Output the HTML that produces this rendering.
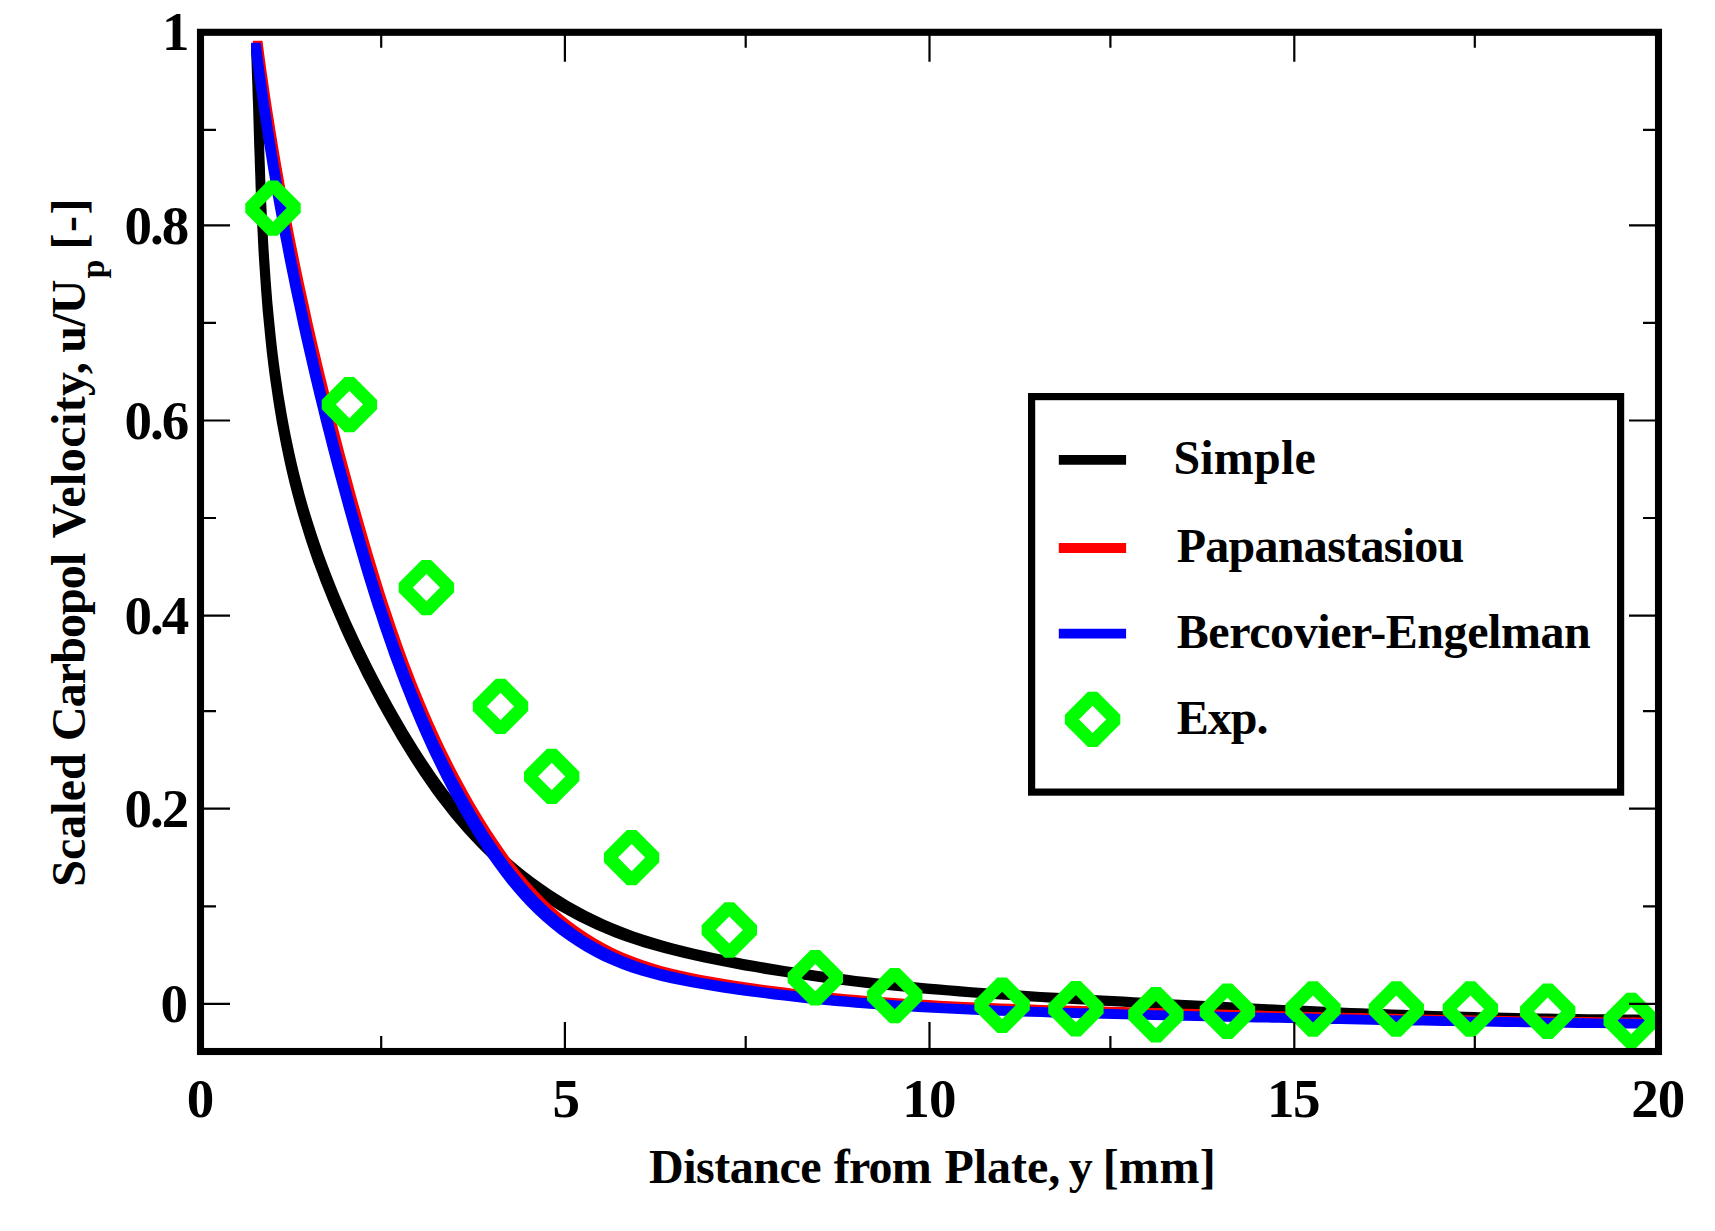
<!DOCTYPE html>
<html lang="en"><head><meta charset="utf-8"><title>Scaled Carbopol Velocity vs Distance from Plate</title>
<style>html,body{margin:0;padding:0;background:#fff}body{width:1715px;height:1231px;overflow:hidden}svg{display:block}text{font-family:"Liberation Serif",serif;font-weight:bold;fill:#000}</style></head><body>
<svg width="1715" height="1231" viewBox="0 0 1715 1231">
<rect width="1715" height="1231" fill="#fff"/>
<defs><clipPath id="plot"><rect x="200.5" y="32.3" width="1458" height="1019.2"/></clipPath></defs>
<g clip-path="url(#plot)" stroke="none">
<path d="M251.2 44.0 L260.8 44.0 L261.2 54.1 L261.5 64.3 L261.9 74.5 L262.2 84.7 L262.6 95.0 L262.9 105.2 L263.2 115.5 L263.5 125.8 L263.8 136.1 L264.2 146.4 L264.5 156.7 L264.9 167.0 L265.2 177.4 L265.6 187.7 L266.0 198.1 L266.5 208.4 L267.0 218.8 L267.5 229.1 L268.0 239.5 L268.6 249.8 L269.3 260.2 L270.0 270.5 L270.7 280.9 L271.5 291.2 L272.3 301.6 L273.3 311.9 L274.3 322.2 L275.3 332.5 L276.4 342.8 L277.6 353.0 L278.9 363.3 L280.3 373.5 L281.8 383.7 L283.3 393.9 L285.0 404.1 L286.7 414.3 L288.6 424.4 L290.5 434.5 L292.6 444.6 L294.7 454.6 L297.0 464.6 L299.4 474.6 L302.0 484.6 L304.6 494.5 L307.4 504.4 L310.3 514.2 L313.4 524.1 L316.5 533.8 L319.8 543.6 L323.2 553.3 L326.8 562.9 L330.4 572.6 L334.2 582.2 L338.0 591.7 L342.0 601.2 L346.1 610.7 L350.2 620.2 L354.5 629.6 L358.9 638.9 L363.3 648.3 L367.9 657.5 L372.5 666.8 L377.3 676.0 L382.1 685.2 L387.0 694.3 L392.0 703.4 L397.1 712.4 L402.3 721.4 L407.5 730.4 L412.9 739.2 L418.3 748.0 L423.9 756.7 L429.6 765.3 L435.5 773.9 L441.4 782.3 L447.5 790.6 L453.8 798.7 L460.2 806.8 L466.8 814.7 L473.5 822.4 L480.4 830.0 L487.5 837.4 L494.8 844.7 L502.2 851.7 L509.9 858.6 L517.7 865.3 L525.8 871.8 L534.0 878.0 L542.4 884.1 L551.0 889.9 L559.7 895.5 L568.5 900.9 L577.5 906.0 L586.7 910.9 L595.9 915.5 L605.3 919.9 L614.8 924.0 L624.3 927.8 L634.0 931.4 L643.8 934.7 L653.6 937.8 L663.5 940.7 L673.4 943.5 L683.4 946.0 L693.5 948.4 L703.5 950.7 L713.6 952.9 L723.7 955.0 L733.9 957.0 L744.0 958.9 L754.1 960.8 L764.3 962.5 L774.5 964.3 L784.6 965.9 L794.8 967.5 L805.0 969.1 L815.2 970.5 L825.4 972.0 L835.6 973.3 L845.8 974.6 L856.0 975.9 L866.2 977.1 L876.4 978.3 L886.6 979.4 L896.9 980.4 L907.1 981.5 L917.4 982.5 L927.6 983.4 L937.9 984.3 L948.2 985.2 L958.4 986.0 L968.7 986.9 L979.0 987.7 L989.3 988.4 L999.5 989.1 L1009.8 989.9 L1020.1 990.5 L1030.4 991.2 L1040.7 991.9 L1051.0 992.5 L1061.3 993.1 L1071.6 993.7 L1082.0 994.3 L1092.3 994.9 L1102.6 995.5 L1112.9 996.1 L1123.2 996.6 L1133.6 997.2 L1143.9 997.8 L1154.2 998.3 L1164.6 998.9 L1174.9 999.5 L1185.2 1000.0 L1195.6 1000.5 L1205.9 1001.1 L1216.3 1001.6 L1226.6 1002.1 L1236.9 1002.7 L1247.3 1003.2 L1257.6 1003.7 L1268.0 1004.2 L1278.3 1004.7 L1288.6 1005.2 L1299.0 1005.6 L1309.3 1006.1 L1319.7 1006.5 L1330.0 1007.0 L1340.3 1007.4 L1350.7 1007.9 L1361.0 1008.3 L1371.3 1008.7 L1381.7 1009.1 L1392.0 1009.5 L1402.3 1009.8 L1412.7 1010.2 L1423.0 1010.5 L1433.3 1010.9 L1443.6 1011.2 L1454.0 1011.5 L1464.3 1011.8 L1474.6 1012.1 L1484.9 1012.4 L1495.2 1012.6 L1505.5 1012.8 L1515.8 1013.1 L1526.1 1013.3 L1536.4 1013.5 L1546.7 1013.6 L1557.0 1013.8 L1567.2 1013.9 L1577.5 1014.1 L1587.8 1014.2 L1598.0 1014.3 L1608.3 1014.3 L1618.6 1014.4 L1628.8 1014.4 L1639.1 1014.5 L1649.3 1014.5 L1659.5 1014.4 L1659.5 1024.0 L1649.9 1024.0 L1639.7 1024.1 L1629.5 1024.1 L1619.2 1024.0 L1609.0 1024.0 L1598.7 1023.9 L1588.4 1023.9 L1578.2 1023.8 L1567.9 1023.7 L1557.6 1023.5 L1547.4 1023.4 L1537.1 1023.2 L1526.8 1023.1 L1516.5 1022.9 L1506.2 1022.7 L1495.9 1022.4 L1485.6 1022.2 L1475.3 1022.0 L1465.0 1021.7 L1454.7 1021.4 L1444.4 1021.1 L1434.0 1020.8 L1423.7 1020.5 L1413.4 1020.1 L1403.1 1019.8 L1392.7 1019.4 L1382.4 1019.1 L1372.1 1018.7 L1361.7 1018.3 L1351.4 1017.9 L1341.1 1017.5 L1330.7 1017.0 L1320.4 1016.6 L1310.1 1016.1 L1299.7 1015.7 L1289.4 1015.2 L1279.0 1014.8 L1268.7 1014.3 L1258.4 1013.8 L1248.0 1013.3 L1237.7 1012.8 L1227.3 1012.3 L1217.0 1011.7 L1206.7 1011.2 L1196.3 1010.7 L1186.0 1010.1 L1175.6 1009.6 L1165.3 1009.1 L1155.0 1008.5 L1144.6 1007.9 L1134.3 1007.4 L1124.0 1006.8 L1113.6 1006.2 L1103.3 1005.7 L1093.0 1005.1 L1082.7 1004.5 L1072.4 1003.9 L1062.0 1003.3 L1051.7 1002.7 L1041.4 1002.1 L1031.1 1001.5 L1020.8 1000.8 L1010.5 1000.1 L1000.2 999.5 L989.9 998.7 L979.7 998.0 L969.4 997.3 L959.1 996.5 L948.8 995.6 L938.6 994.8 L928.3 993.9 L918.0 993.0 L907.8 992.1 L897.5 991.1 L887.3 990.0 L877.0 989.0 L866.8 987.9 L856.6 986.7 L846.4 985.5 L836.2 984.2 L826.0 982.9 L815.8 981.6 L805.6 980.1 L795.4 978.7 L785.2 977.1 L775.0 975.5 L764.9 973.9 L754.7 972.1 L744.5 970.4 L734.4 968.5 L724.3 966.6 L714.1 964.6 L704.0 962.5 L693.9 960.3 L683.9 958.0 L673.8 955.6 L663.8 953.1 L653.9 950.3 L644.0 947.4 L634.2 944.3 L624.4 941.0 L614.7 937.4 L605.2 933.6 L595.7 929.5 L586.3 925.1 L577.1 920.5 L567.9 915.6 L558.9 910.5 L550.1 905.1 L541.4 899.5 L532.8 893.7 L524.4 887.6 L516.2 881.4 L508.1 874.9 L500.3 868.2 L492.6 861.3 L485.2 854.3 L477.9 847.0 L470.8 839.6 L463.9 832.0 L457.2 824.3 L450.6 816.4 L444.2 808.3 L437.9 800.2 L431.8 791.9 L425.9 783.5 L420.0 774.9 L414.3 766.3 L408.7 757.6 L403.3 748.8 L397.9 740.0 L392.7 731.0 L387.5 722.0 L382.4 713.0 L377.4 703.9 L372.5 694.8 L367.7 685.6 L362.9 676.4 L358.3 667.1 L353.7 657.9 L349.3 648.5 L344.9 639.2 L340.6 629.8 L336.5 620.3 L332.4 610.8 L328.4 601.3 L324.6 591.8 L320.8 582.2 L317.2 572.5 L313.6 562.9 L310.2 553.2 L306.9 543.4 L303.8 533.7 L300.7 523.8 L297.8 514.0 L295.0 504.1 L292.4 494.2 L289.8 484.2 L287.4 474.2 L285.1 464.2 L283.0 454.2 L280.9 444.1 L279.0 434.0 L277.1 423.9 L275.4 413.7 L273.7 403.5 L272.2 393.3 L270.7 383.1 L269.3 372.9 L268.0 362.6 L266.8 352.4 L265.7 342.1 L264.7 331.8 L263.7 321.5 L262.7 311.2 L261.9 300.8 L261.1 290.5 L260.4 280.1 L259.7 269.8 L259.0 259.4 L258.4 249.1 L257.9 238.7 L257.4 228.4 L256.9 218.0 L256.4 207.7 L256.0 197.3 L255.6 187.0 L255.3 176.6 L254.9 166.3 L254.6 156.0 L254.2 145.7 L253.9 135.4 L253.6 125.1 L253.3 114.8 L253.0 104.6 L252.6 94.3 L252.3 84.1 L251.9 73.9 L251.6 63.7 L251.2 53.6Z" fill="#000"/>
<path d="M252.9 40.8 L262.5 40.8 L263.8 51.1 L265.2 61.5 L266.6 71.8 L268.1 82.1 L269.6 92.4 L271.1 102.6 L272.7 112.9 L274.3 123.1 L275.9 133.3 L277.6 143.5 L279.3 153.7 L281.0 163.9 L282.8 174.0 L284.6 184.2 L286.4 194.3 L288.3 204.4 L290.2 214.6 L292.1 224.7 L294.0 234.7 L296.0 244.8 L298.1 254.9 L300.1 265.0 L302.2 275.0 L304.3 285.1 L306.5 295.1 L308.7 305.1 L310.9 315.2 L313.1 325.2 L315.4 335.2 L317.7 345.2 L320.1 355.2 L322.4 365.2 L324.8 375.2 L327.3 385.2 L329.7 395.2 L332.2 405.1 L334.7 415.1 L337.2 425.1 L339.8 435.1 L342.4 445.0 L345.0 455.0 L347.7 465.0 L350.4 475.0 L353.1 484.9 L355.8 494.9 L358.6 504.9 L361.4 514.8 L364.2 524.8 L367.1 534.8 L370.0 544.7 L372.9 554.7 L375.9 564.6 L378.9 574.6 L382.0 584.5 L385.1 594.4 L388.3 604.2 L391.6 614.1 L394.9 623.9 L398.3 633.7 L401.7 643.5 L405.2 653.2 L408.8 662.9 L412.5 672.6 L416.2 682.2 L420.1 691.8 L424.0 701.3 L428.0 710.8 L432.1 720.2 L436.3 729.6 L440.6 739.0 L445.0 748.3 L449.6 757.5 L454.2 766.7 L458.9 775.8 L463.8 784.8 L468.7 793.8 L473.8 802.7 L479.0 811.6 L484.3 820.3 L489.8 829.0 L495.4 837.6 L501.2 846.1 L507.1 854.5 L513.2 862.8 L519.5 870.9 L526.0 878.8 L532.8 886.5 L539.8 894.0 L547.0 901.3 L554.6 908.3 L562.4 915.0 L570.4 921.4 L578.7 927.6 L587.2 933.3 L596.0 938.8 L604.9 943.8 L614.1 948.5 L623.4 952.8 L632.9 956.6 L642.5 960.1 L652.3 963.3 L662.2 966.2 L672.1 968.8 L682.2 971.1 L692.4 973.3 L702.6 975.3 L712.8 977.1 L723.1 978.8 L733.3 980.5 L743.6 982.1 L753.9 983.5 L764.1 985.0 L774.4 986.3 L784.7 987.6 L794.9 988.9 L805.2 990.1 L815.5 991.2 L825.8 992.2 L836.0 993.2 L846.3 994.2 L856.6 995.1 L866.9 995.9 L877.2 996.7 L887.4 997.5 L897.7 998.2 L908.0 998.9 L918.3 999.5 L928.6 1000.1 L938.9 1000.7 L949.1 1001.2 L959.4 1001.7 L969.7 1002.2 L980.0 1002.6 L990.3 1003.1 L1000.6 1003.5 L1010.9 1003.8 L1021.2 1004.2 L1031.5 1004.5 L1041.7 1004.9 L1052.0 1005.2 L1062.3 1005.5 L1072.6 1005.8 L1082.9 1006.0 L1093.2 1006.3 L1103.5 1006.6 L1113.8 1006.9 L1124.1 1007.1 L1134.4 1007.4 L1144.7 1007.7 L1155.0 1008.0 L1165.3 1008.2 L1175.6 1008.5 L1185.9 1008.8 L1196.2 1009.0 L1206.5 1009.3 L1216.8 1009.6 L1227.1 1009.8 L1237.4 1010.1 L1247.8 1010.4 L1258.1 1010.6 L1268.4 1010.9 L1278.7 1011.2 L1289.0 1011.4 L1299.3 1011.7 L1309.6 1011.9 L1319.9 1012.2 L1330.2 1012.4 L1340.5 1012.7 L1350.8 1012.9 L1361.2 1013.1 L1371.5 1013.4 L1381.8 1013.6 L1392.1 1013.8 L1402.4 1014.0 L1412.7 1014.3 L1423.0 1014.5 L1433.3 1014.7 L1443.7 1014.9 L1454.0 1015.1 L1464.3 1015.3 L1474.6 1015.5 L1484.9 1015.6 L1495.2 1015.8 L1505.6 1016.0 L1515.9 1016.2 L1526.2 1016.3 L1536.5 1016.5 L1546.8 1016.6 L1557.1 1016.7 L1567.5 1016.9 L1577.8 1017.0 L1588.1 1017.1 L1598.4 1017.2 L1608.7 1017.3 L1619.1 1017.4 L1629.4 1017.5 L1639.7 1017.6 L1650.0 1017.7 L1660.3 1017.7 L1660.3 1027.3 L1650.7 1027.3 L1640.4 1027.3 L1630.1 1027.2 L1619.8 1027.1 L1609.5 1027.0 L1599.1 1026.9 L1588.8 1026.8 L1578.5 1026.7 L1568.2 1026.6 L1557.9 1026.5 L1547.5 1026.3 L1537.2 1026.2 L1526.9 1026.1 L1516.6 1025.9 L1506.3 1025.8 L1496.0 1025.6 L1485.6 1025.4 L1475.3 1025.2 L1465.0 1025.1 L1454.7 1024.9 L1444.4 1024.7 L1434.1 1024.5 L1423.7 1024.3 L1413.4 1024.1 L1403.1 1023.9 L1392.8 1023.6 L1382.5 1023.4 L1372.2 1023.2 L1361.9 1023.0 L1351.6 1022.7 L1341.2 1022.5 L1330.9 1022.3 L1320.6 1022.0 L1310.3 1021.8 L1300.0 1021.5 L1289.7 1021.3 L1279.4 1021.0 L1269.1 1020.8 L1258.8 1020.5 L1248.5 1020.2 L1238.2 1020.0 L1227.8 1019.7 L1217.5 1019.4 L1207.2 1019.2 L1196.9 1018.9 L1186.6 1018.6 L1176.3 1018.4 L1166.0 1018.1 L1155.7 1017.8 L1145.4 1017.6 L1135.1 1017.3 L1124.8 1017.0 L1114.5 1016.7 L1104.2 1016.5 L1093.9 1016.2 L1083.6 1015.9 L1073.3 1015.6 L1063.0 1015.4 L1052.7 1015.1 L1042.4 1014.8 L1032.1 1014.5 L1021.9 1014.1 L1011.6 1013.8 L1001.3 1013.4 L991.0 1013.1 L980.7 1012.7 L970.4 1012.2 L960.1 1011.8 L949.8 1011.3 L939.5 1010.8 L929.3 1010.3 L919.0 1009.7 L908.7 1009.1 L898.4 1008.5 L888.1 1007.8 L877.8 1007.1 L867.6 1006.3 L857.3 1005.5 L847.0 1004.7 L836.7 1003.8 L826.4 1002.8 L816.2 1001.8 L805.9 1000.8 L795.6 999.7 L785.3 998.5 L775.1 997.2 L764.8 995.9 L754.5 994.6 L744.3 993.1 L734.0 991.7 L723.7 990.1 L713.5 988.4 L703.2 986.7 L693.0 984.9 L682.8 982.9 L672.6 980.7 L662.5 978.4 L652.6 975.8 L642.7 972.9 L632.9 969.7 L623.3 966.2 L613.8 962.4 L604.5 958.1 L595.3 953.4 L586.4 948.4 L577.6 942.9 L569.1 937.2 L560.8 931.0 L552.8 924.6 L545.0 917.9 L537.4 910.9 L530.2 903.6 L523.2 896.1 L516.4 888.4 L509.9 880.5 L503.6 872.4 L497.5 864.1 L491.6 855.7 L485.8 847.2 L480.2 838.6 L474.7 829.9 L469.4 821.2 L464.2 812.3 L459.1 803.4 L454.2 794.4 L449.3 785.4 L444.6 776.3 L440.0 767.1 L435.4 757.9 L431.0 748.6 L426.7 739.2 L422.5 729.8 L418.4 720.4 L414.4 710.9 L410.5 701.4 L406.6 691.8 L402.9 682.2 L399.2 672.5 L395.6 662.8 L392.1 653.1 L388.7 643.3 L385.3 633.5 L382.0 623.7 L378.7 613.8 L375.5 604.0 L372.4 594.1 L369.3 584.2 L366.3 574.2 L363.3 564.3 L360.4 554.3 L357.5 544.4 L354.6 534.4 L351.8 524.4 L349.0 514.5 L346.2 504.5 L343.5 494.5 L340.8 484.6 L338.1 474.6 L335.4 464.6 L332.8 454.6 L330.2 444.7 L327.6 434.7 L325.1 424.7 L322.6 414.7 L320.1 404.8 L317.7 394.8 L315.2 384.8 L312.8 374.8 L310.5 364.8 L308.1 354.8 L305.8 344.8 L303.5 334.8 L301.3 324.8 L299.1 314.7 L296.9 304.7 L294.7 294.7 L292.6 284.6 L290.5 274.6 L288.5 264.5 L286.4 254.4 L284.4 244.3 L282.5 234.3 L280.6 224.2 L278.7 214.0 L276.8 203.9 L275.0 193.8 L273.2 183.6 L271.4 173.5 L269.7 163.3 L268.0 153.1 L266.3 142.9 L264.7 132.7 L263.1 122.5 L261.5 112.2 L260.0 102.0 L258.5 91.7 L257.0 81.4 L255.6 71.1 L254.2 60.7 L252.9 50.4Z" fill="#f00"/>
<path d="M251.1 42.8 L260.7 42.8 L262.1 53.1 L263.4 63.5 L264.8 73.8 L266.3 84.1 L267.7 94.4 L269.2 104.7 L270.8 115.0 L272.3 125.2 L273.9 135.4 L275.6 145.7 L277.2 155.9 L278.9 166.0 L280.7 176.2 L282.4 186.4 L284.2 196.5 L286.1 206.7 L287.9 216.8 L289.8 226.9 L291.8 237.0 L293.7 247.1 L295.7 257.2 L297.8 267.3 L299.8 277.4 L301.9 287.4 L304.1 297.5 L306.2 307.5 L308.4 317.6 L310.6 327.6 L312.9 337.7 L315.2 347.7 L317.5 357.7 L319.8 367.7 L322.2 377.7 L324.6 387.7 L327.1 397.7 L329.5 407.7 L332.0 417.7 L334.6 427.7 L337.1 437.7 L339.7 447.7 L342.3 457.7 L345.0 467.6 L347.7 477.6 L350.4 487.6 L353.1 497.6 L355.9 507.6 L358.7 517.6 L361.5 527.5 L364.4 537.5 L367.3 547.5 L370.2 557.5 L373.2 567.4 L376.3 577.3 L379.4 587.3 L382.5 597.2 L385.8 607.0 L389.0 616.9 L392.4 626.7 L395.8 636.5 L399.2 646.3 L402.8 656.0 L406.4 665.7 L410.1 675.4 L413.9 685.0 L417.7 694.6 L421.7 704.2 L425.7 713.7 L429.8 723.1 L434.0 732.5 L438.3 741.9 L442.8 751.1 L447.3 760.4 L451.9 769.6 L456.6 778.7 L461.5 787.7 L466.5 796.7 L471.5 805.6 L476.7 814.5 L482.1 823.3 L487.5 831.9 L493.1 840.6 L498.8 849.1 L504.7 857.5 L510.8 865.7 L517.1 873.8 L523.6 881.7 L530.4 889.4 L537.4 896.9 L544.7 904.2 L552.3 911.2 L560.2 917.9 L568.3 924.3 L576.7 930.4 L585.3 936.2 L594.1 941.6 L603.1 946.6 L612.3 951.3 L621.6 955.5 L631.2 959.3 L640.8 962.8 L650.6 965.9 L660.5 968.7 L670.6 971.3 L680.6 973.6 L690.8 975.7 L701.0 977.7 L711.3 979.5 L721.5 981.2 L731.8 982.8 L742.1 984.3 L752.4 985.8 L762.6 987.2 L772.9 988.5 L783.2 989.8 L793.5 991.0 L803.8 992.2 L814.0 993.3 L824.3 994.4 L834.6 995.4 L844.9 996.3 L855.2 997.2 L865.5 998.1 L875.8 998.9 L886.1 999.6 L896.4 1000.4 L906.6 1001.1 L916.9 1001.7 L927.2 1002.3 L937.5 1002.9 L947.8 1003.4 L958.1 1003.9 L968.4 1004.4 L978.7 1004.9 L989.0 1005.3 L999.3 1005.7 L1009.6 1006.1 L1019.9 1006.5 L1030.2 1006.8 L1040.5 1007.1 L1050.8 1007.5 L1061.2 1007.8 L1071.5 1008.1 L1081.8 1008.3 L1092.1 1008.6 L1102.4 1008.9 L1112.7 1009.1 L1123.0 1009.4 L1133.3 1009.7 L1143.6 1009.9 L1153.9 1010.2 L1164.3 1010.4 L1174.6 1010.7 L1184.9 1010.9 L1195.2 1011.2 L1205.5 1011.4 L1215.8 1011.6 L1226.1 1011.9 L1236.5 1012.1 L1246.8 1012.3 L1257.1 1012.6 L1267.4 1012.8 L1277.7 1013.0 L1288.1 1013.2 L1298.4 1013.4 L1308.7 1013.6 L1319.0 1013.9 L1329.3 1014.1 L1339.7 1014.3 L1350.0 1014.5 L1360.3 1014.7 L1370.6 1014.9 L1381.0 1015.1 L1391.3 1015.3 L1401.6 1015.4 L1411.9 1015.6 L1422.3 1015.8 L1432.6 1016.0 L1442.9 1016.2 L1453.3 1016.3 L1463.6 1016.5 L1473.9 1016.7 L1484.2 1016.8 L1494.6 1017.0 L1504.9 1017.1 L1515.2 1017.3 L1525.5 1017.4 L1535.9 1017.6 L1546.2 1017.7 L1556.5 1017.9 L1566.9 1018.0 L1577.2 1018.1 L1587.5 1018.3 L1597.9 1018.4 L1608.2 1018.5 L1618.5 1018.6 L1628.9 1018.8 L1639.2 1018.9 L1649.5 1019.0 L1659.8 1019.1 L1659.8 1028.7 L1650.2 1028.7 L1639.9 1028.6 L1629.6 1028.5 L1619.3 1028.4 L1608.9 1028.2 L1598.6 1028.1 L1588.3 1028.0 L1577.9 1027.9 L1567.6 1027.7 L1557.3 1027.6 L1546.9 1027.5 L1536.6 1027.3 L1526.3 1027.2 L1515.9 1027.0 L1505.6 1026.9 L1495.3 1026.7 L1485.0 1026.6 L1474.6 1026.4 L1464.3 1026.3 L1454.0 1026.1 L1443.7 1025.9 L1433.3 1025.8 L1423.0 1025.6 L1412.7 1025.4 L1402.3 1025.2 L1392.0 1025.0 L1381.7 1024.9 L1371.4 1024.7 L1361.0 1024.5 L1350.7 1024.3 L1340.4 1024.1 L1330.1 1023.9 L1319.7 1023.7 L1309.4 1023.5 L1299.1 1023.2 L1288.8 1023.0 L1278.5 1022.8 L1268.1 1022.6 L1257.8 1022.4 L1247.5 1022.2 L1237.2 1021.9 L1226.9 1021.7 L1216.5 1021.5 L1206.2 1021.2 L1195.9 1021.0 L1185.6 1020.8 L1175.3 1020.5 L1165.0 1020.3 L1154.7 1020.0 L1144.3 1019.8 L1134.0 1019.5 L1123.7 1019.3 L1113.4 1019.0 L1103.1 1018.7 L1092.8 1018.5 L1082.5 1018.2 L1072.2 1017.9 L1061.9 1017.7 L1051.6 1017.4 L1041.2 1017.1 L1030.9 1016.7 L1020.6 1016.4 L1010.3 1016.1 L1000.0 1015.7 L989.7 1015.3 L979.4 1014.9 L969.1 1014.5 L958.8 1014.0 L948.5 1013.5 L938.2 1013.0 L927.9 1012.5 L917.6 1011.9 L907.3 1011.3 L897.0 1010.7 L886.8 1010.0 L876.5 1009.2 L866.2 1008.5 L855.9 1007.7 L845.6 1006.8 L835.3 1005.9 L825.0 1005.0 L814.7 1004.0 L804.4 1002.9 L794.2 1001.8 L783.9 1000.6 L773.6 999.4 L763.3 998.1 L753.0 996.8 L742.8 995.4 L732.5 993.9 L722.2 992.4 L711.9 990.8 L701.7 989.1 L691.4 987.3 L681.2 985.3 L671.0 983.2 L661.0 980.9 L650.9 978.3 L641.0 975.5 L631.2 972.4 L621.6 968.9 L612.0 965.1 L602.7 960.9 L593.5 956.2 L584.5 951.2 L575.7 945.8 L567.1 940.0 L558.7 933.9 L550.6 927.5 L542.7 920.8 L535.1 913.8 L527.8 906.5 L520.8 899.0 L514.0 891.3 L507.5 883.4 L501.2 875.3 L495.1 867.1 L489.2 858.7 L483.5 850.2 L477.9 841.5 L472.5 832.9 L467.1 824.1 L461.9 815.2 L456.9 806.3 L451.9 797.3 L447.0 788.3 L442.3 779.2 L437.7 770.0 L433.2 760.7 L428.7 751.5 L424.4 742.1 L420.2 732.7 L416.1 723.3 L412.1 713.8 L408.1 704.2 L404.3 694.6 L400.5 685.0 L396.8 675.3 L393.2 665.6 L389.6 655.9 L386.2 646.1 L382.8 636.3 L379.4 626.5 L376.2 616.6 L372.9 606.8 L369.8 596.9 L366.7 586.9 L363.6 577.0 L360.6 567.1 L357.7 557.1 L354.8 547.1 L351.9 537.1 L349.1 527.2 L346.3 517.2 L343.5 507.2 L340.8 497.2 L338.1 487.2 L335.4 477.2 L332.7 467.3 L330.1 457.3 L327.5 447.3 L325.0 437.3 L322.4 427.3 L319.9 417.3 L317.5 407.3 L315.0 397.3 L312.6 387.3 L310.2 377.3 L307.9 367.3 L305.6 357.3 L303.3 347.3 L301.0 337.2 L298.8 327.2 L296.6 317.1 L294.5 307.1 L292.3 297.0 L290.2 287.0 L288.2 276.9 L286.1 266.8 L284.1 256.7 L282.2 246.6 L280.2 236.5 L278.3 226.4 L276.5 216.3 L274.6 206.1 L272.8 196.0 L271.1 185.8 L269.3 175.6 L267.6 165.5 L266.0 155.3 L264.3 145.0 L262.7 134.8 L261.2 124.6 L259.6 114.3 L258.1 104.0 L256.7 93.7 L255.2 83.4 L253.8 73.1 L252.5 62.7 L251.1 52.4Z" fill="#00f"/>
<path fill="#0f0" fill-rule="evenodd" d="M245.3 203.4 L268.3 180.4 L277.7 180.4 L300.7 203.4 L300.7 212.8 L277.7 235.8 L268.3 235.8 L245.3 212.8ZM259.4 208.1 L273.0 221.7 L286.6 208.1 L273.0 194.5ZM321.7 399.9 L344.7 376.9 L354.1 376.9 L377.1 399.9 L377.1 409.3 L354.1 432.3 L344.7 432.3 L321.7 409.3ZM335.8 404.6 L349.4 418.2 L363.0 404.6 L349.4 391.0ZM398.7 582.9 L421.7 559.9 L431.1 559.9 L454.1 582.9 L454.1 592.3 L431.1 615.3 L421.7 615.3 L398.7 592.3ZM412.8 587.6 L426.4 601.2 L440.0 587.6 L426.4 574.0ZM472.8 701.7 L495.8 678.7 L505.2 678.7 L528.2 701.7 L528.2 711.1 L505.2 734.1 L495.8 734.1 L472.8 711.1ZM486.9 706.4 L500.5 720.0 L514.1 706.4 L500.5 692.8ZM524.0 771.7 L547.0 748.7 L556.4 748.7 L579.4 771.7 L579.4 781.1 L556.4 804.1 L547.0 804.1 L524.0 781.1ZM538.1 776.4 L551.7 790.0 L565.3 776.4 L551.7 762.8ZM603.9 852.9 L626.9 829.9 L636.3 829.9 L659.3 852.9 L659.3 862.3 L636.3 885.3 L626.9 885.3 L603.9 862.3ZM618.0 857.6 L631.6 871.2 L645.2 857.6 L631.6 844.0ZM701.6 925.3 L724.6 902.3 L734.0 902.3 L757.0 925.3 L757.0 934.7 L734.0 957.7 L724.6 957.7 L701.6 934.7ZM715.7 930.0 L729.3 943.6 L742.9 930.0 L729.3 916.4ZM787.6 973.0 L810.6 950.0 L820.0 950.0 L843.0 973.0 L843.0 982.4 L820.0 1005.4 L810.6 1005.4 L787.6 982.4ZM801.7 977.7 L815.3 991.3 L828.9 977.7 L815.3 964.1ZM867.0 990.9 L890.0 967.9 L899.4 967.9 L922.4 990.9 L922.4 1000.3 L899.4 1023.3 L890.0 1023.3 L867.0 1000.3ZM881.1 995.6 L894.7 1009.2 L908.3 995.6 L894.7 982.0ZM974.4 1000.6 L997.4 977.6 L1006.8 977.6 L1029.8 1000.6 L1029.8 1010.0 L1006.8 1033.0 L997.4 1033.0 L974.4 1010.0ZM988.5 1005.3 L1002.1 1018.9 L1015.7 1005.3 L1002.1 991.7ZM1048.2 1004.0 L1071.2 981.0 L1080.6 981.0 L1103.6 1004.0 L1103.6 1013.4 L1080.6 1036.4 L1071.2 1036.4 L1048.2 1013.4ZM1062.3 1008.7 L1075.9 1022.3 L1089.5 1008.7 L1075.9 995.1ZM1128.2 1010.0 L1151.2 987.0 L1160.6 987.0 L1183.6 1010.0 L1183.6 1019.4 L1160.6 1042.4 L1151.2 1042.4 L1128.2 1019.4ZM1142.3 1014.7 L1155.9 1028.3 L1169.5 1014.7 L1155.9 1001.1ZM1199.7 1006.6 L1222.7 983.6 L1232.1 983.6 L1255.1 1006.6 L1255.1 1016.0 L1232.1 1039.0 L1222.7 1039.0 L1199.7 1016.0ZM1213.8 1011.3 L1227.4 1024.9 L1241.0 1011.3 L1227.4 997.7ZM1285.3 1004.3 L1308.3 981.3 L1317.7 981.3 L1340.7 1004.3 L1340.7 1013.7 L1317.7 1036.7 L1308.3 1036.7 L1285.3 1013.7ZM1299.4 1009.0 L1313.0 1022.6 L1326.6 1009.0 L1313.0 995.4ZM1368.6 1004.3 L1391.6 981.3 L1401.0 981.3 L1424.0 1004.3 L1424.0 1013.7 L1401.0 1036.7 L1391.6 1036.7 L1368.6 1013.7ZM1382.7 1009.0 L1396.3 1022.6 L1409.9 1009.0 L1396.3 995.4ZM1442.7 1004.3 L1465.7 981.3 L1475.1 981.3 L1498.1 1004.3 L1498.1 1013.7 L1475.1 1036.7 L1465.7 1036.7 L1442.7 1013.7ZM1456.8 1009.0 L1470.4 1022.6 L1484.0 1009.0 L1470.4 995.4ZM1520.0 1006.5 L1543.0 983.5 L1552.4 983.5 L1575.4 1006.5 L1575.4 1015.9 L1552.4 1038.9 L1543.0 1038.9 L1520.0 1015.9ZM1534.1 1011.2 L1547.7 1024.8 L1561.3 1011.2 L1547.7 997.6ZM1603.5 1015.8 L1626.5 992.8 L1635.9 992.8 L1658.9 1015.8 L1658.9 1025.2 L1635.9 1048.2 L1626.5 1048.2 L1603.5 1025.2ZM1617.6 1020.5 L1631.2 1034.1 L1644.8 1020.5 L1631.2 1006.9Z"/>
</g>
<g stroke="#000" stroke-width="2.2" fill="none">
<path d="M200.5 1051.5v-29.5M200.5 32.3v29.5"/>
<path d="M381.2 1051.5v-15.5M381.2 32.3v15.5"/>
<path d="M564.9 1051.5v-29.5M564.9 32.3v29.5"/>
<path d="M745.7 1051.5v-15.5M745.7 32.3v15.5"/>
<path d="M929.5 1051.5v-29.5M929.5 32.3v29.5"/>
<path d="M1110.4 1051.5v-15.5M1110.4 32.3v15.5"/>
<path d="M1294.3 1051.5v-29.5M1294.3 32.3v29.5"/>
<path d="M1474.8 1051.5v-15.5M1474.8 32.3v15.5"/>
<path d="M1658.5 1051.5v-29.5M1658.5 32.3v29.5"/>
<path d="M200.5 32.4h29.5M1658.5 32.4h-29.5"/>
<path d="M200.5 129.8h15.5M1658.5 129.8h-15.5"/>
<path d="M200.5 225.3h29.5M1658.5 225.3h-29.5"/>
<path d="M200.5 322.8h15.5M1658.5 322.8h-15.5"/>
<path d="M200.5 420.5h29.5M1658.5 420.5h-29.5"/>
<path d="M200.5 518.0h15.5M1658.5 518.0h-15.5"/>
<path d="M200.5 615.6h29.5M1658.5 615.6h-29.5"/>
<path d="M200.5 711.2h15.5M1658.5 711.2h-15.5"/>
<path d="M200.5 808.7h29.5M1658.5 808.7h-29.5"/>
<path d="M200.5 906.4h15.5M1658.5 906.4h-15.5"/>
<path d="M200.5 1003.9h29.5M1658.5 1003.9h-29.5"/>
</g>
<rect x="200.5" y="32.3" width="1458.0" height="1019.2" fill="none" stroke="#000" stroke-width="7.1"/>
<text x="186.8" y="1117.4" font-size="55" letter-spacing="0">0</text>
<text x="552.6" y="1117.4" font-size="55" letter-spacing="0">5</text>
<text x="902.2" y="1117.4" font-size="55" letter-spacing="-0.7">10</text>
<text x="1267.1" y="1117.4" font-size="55" letter-spacing="-1.7">15</text>
<text x="1631.3" y="1117.4" font-size="55" letter-spacing="-1">20</text>
<text x="160.6" y="1022.3" font-size="55" letter-spacing="0">0</text>
<text x="124.5" y="827.1" font-size="55" letter-spacing="-2">0.2</text>
<text x="124.5" y="634.0" font-size="55" letter-spacing="-2">0.4</text>
<text x="124.5" y="438.9" font-size="55" letter-spacing="-2">0.6</text>
<text x="124.5" y="243.7" font-size="55" letter-spacing="-2">0.8</text>
<text x="162" y="50.2" font-size="55" letter-spacing="0">1</text>
<text y="1183.3" font-size="48"><tspan x="649.1" letter-spacing="-0.49">Distance </tspan><tspan x="833.8" letter-spacing="-0.8">from </tspan><tspan x="944.4" letter-spacing="0">Plate, </tspan><tspan x="1068.7" letter-spacing="-1">y </tspan><tspan x="1102.8" letter-spacing="0.33">[mm]</tspan></text>
<text transform="translate(84.5,0) rotate(-90)" y="0" font-size="48"><tspan x="-886.7" y="0" letter-spacing="0">Scaled </tspan><tspan x="-741.1" y="0" letter-spacing="-0.9">Carbopol </tspan><tspan x="-538.3" y="0" letter-spacing="0.4">Velocity, </tspan><tspan x="-352.7" y="0" letter-spacing="-0.8">u/U</tspan><tspan x="-278.5" y="19" font-size="34">p </tspan><tspan x="-249.4" y="0" letter-spacing="1.4">[-]</tspan></text>
<rect x="1031.6" y="396.6" width="589" height="395.5" fill="#fff" stroke="#000" stroke-width="7.2"/>
<path d="M1058.8 459.8H1126.1" stroke="#000" stroke-width="9.8" fill="none"/>
<path d="M1058.8 548H1126.1" stroke="#f00" stroke-width="9.8" fill="none"/>
<path d="M1058.8 633.6H1126.1" stroke="#00f" stroke-width="9.8" fill="none"/>
<path fill="#0f0" fill-rule="evenodd" d="M1064.9 714.7 L1087.9 691.7 L1097.3 691.7 L1120.3 714.7 L1120.3 724.1 L1097.3 747.1 L1087.9 747.1 L1064.9 724.1ZM1079.0 719.4 L1092.6 733.0 L1106.2 719.4 L1092.6 705.8Z"/>
<text x="1173.4" y="474.2" font-size="48" letter-spacing="0.2">Simple</text>
<text x="1176.7" y="562.0" font-size="48" letter-spacing="-0.71">Papanastasiou</text>
<text x="1176.7" y="647.7" font-size="48" letter-spacing="-0.42">Bercovier-Engelman</text>
<text x="1176.7" y="733.7" font-size="48" letter-spacing="-1.0">Exp.</text>
</svg></body></html>
